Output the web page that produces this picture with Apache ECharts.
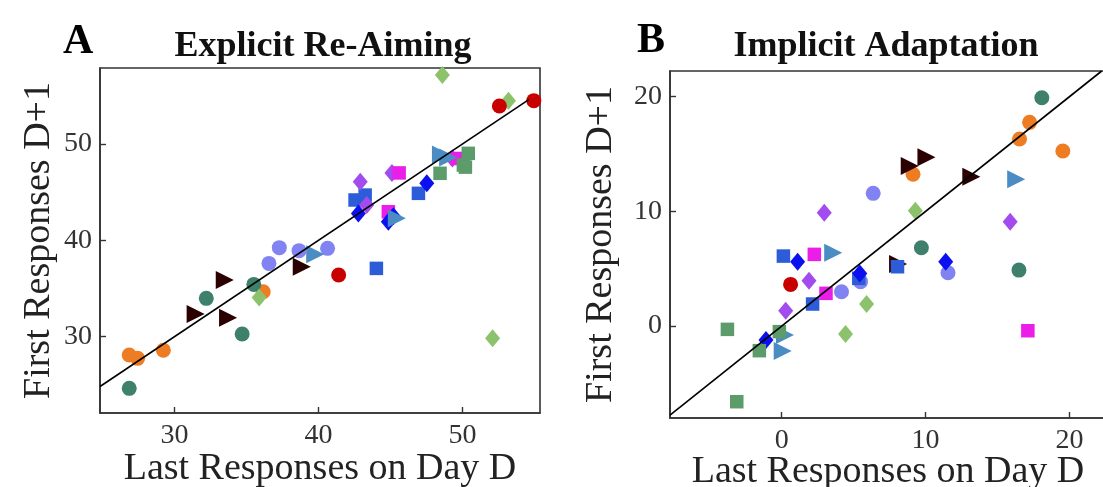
<!DOCTYPE html>
<html>
<head>
<meta charset="utf-8">
<script src="https://cdn.jsdelivr.net/npm/echarts@6/dist/echarts.min.js"></script>
<style>html,body{margin:0;padding:0;background:#fff}#c{width:1103px;height:487px}</style>
</head>
<body>
<div id="c"></div>
<script>
// ---- Panel A: Explicit Re-Aiming ----
const orangeA   = [[26.86,28.1],[27.44,27.75],[29.23,28.6],[36.16,34.67]];
const tealA     = [[26.86,24.64],[32.21,33.98],[35.51,35.43],[34.70,30.28]];
const maroonA   = [[31.47,32.35],[33.49,35.88],[33.72,31.97],[38.84,37.27]];
const lightGreenA = [[35.88,34.08],[48.6,57.16],[53.19,54.5],[52.09,29.83]];
const lavenderA = [[36.56,37.61],[37.28,39.24],[38.65,38.93],[40.63,39.17]];
const redA      = [[41.4,36.4],[52.56,53.94],[54.95,54.5]];
const royalA    = [[42.54,44.19],[43.24,44.7],[44.02,37.09],[46.94,44.88]];
const purpleA   = [[42.9,46.09],[43.35,43.67],[45.1,47.0],[49.3,48.5]];
const magentaA  = [[45.6,47.0],[44.85,42.97],[49.6,48.5]];
const blueA     = [[42.77,42.8],[44.85,41.94],[45.2,42.5],[47.52,45.92]];
const steelA    = [[39.77,38.55],[45.44,42.29],[48.5,48.9],[49.0,48.6]];
const greenA    = [[48.44,46.96],[50.06,47.82],[50.4,49.03],[50.2,47.6]];
const identityA = [24.83, 54.6];

// ---- Panel B: Implicit Adaptation ----
const orangeB   = [[17.23,17.76],[16.53,16.31],[19.54,15.26],[9.13,13.23]];
const tealB     = [[18.08,19.91],[9.71,6.83],[16.49,4.88]];
const maroonB   = [[8.9,13.95],[10.06,14.71],[13.18,13.02],[8.09,5.41]];
const lightGreenB = [[9.29,10.06],[5.9,1.92],[4.44,-0.7]];
const lavenderB = [[6.36,11.57],[4.16,2.99],[5.48,3.87],[11.56,4.65]];
const redB      = [[0.62,3.63]];
const royalB    = [[0.12,6.1],[2.15,1.92],[5.36,4.16],[8.05,5.17]];
const purpleB   = [[2.96,9.88],[15.88,9.1],[1.9,3.95],[0.28,1.34]];
const magentaB  = [[2.27,6.25],[3.08,2.85],[17.11,-0.41]];
const blueB     = [[1.11,5.61],[-1.09,-1.22],[5.43,4.59],[11.4,5.61]];
const steelB    = [[16.3,12.79],[3.58,6.4],[0.23,-0.78],[0.07,-2.18]];
const greenB    = [[-3.77,-0.29],[-1.55,-2.15],[-3.12,-6.6],[-0.16,-0.49]];
const identityB = [-7.76, 22.24];

const ticksA_x = [30,40,50], ticksA_y = [30,40,50];
const ticksB_x = [0,10,20],  ticksB_y = [0,10,20];

const FONT = '"Liberation Serif", "DejaVu Serif", serif';
const AX = '#333';

const groups = [
  ['orange',   '#ee7c22','circle', orangeA, orangeB],
  ['teal',     '#3f806c','circle', tealA, tealB],
  ['maroon',   '#2b0000','tri',    maroonA, maroonB],
  ['lightgreen','#8dc26c','diamond', lightGreenA, lightGreenB],
  ['lavender', '#8283f2','circle', lavenderA, lavenderB],
  ['red',      '#c80000','circle', redA, redB],
  ['royal',    '#2c5cd8','rect',   royalA, royalB],
  ['purple',   '#a24cf0','diamond', purpleA, purpleB],
  ['magenta',  '#ea1ee8','rect',   magentaA, magentaB],
  ['blue',     '#0a10ee','diamond', blueA, blueB],
  ['steel',    '#4b8cc3','tri',    steelA, steelB],
  ['green',    '#5c9c6a','rect',   greenA, greenB]
];

function symbolOf(kind){
  if (kind === 'circle') return {symbol:'circle', symbolSize:15, symbolRotate:0};
  if (kind === 'rect') return {symbol:'rect', symbolSize:13.5, symbolRotate:0};
  if (kind === 'diamond') return {symbol:'diamond', symbolSize:[15,18], symbolRotate:0};
  return {symbol:'triangle', symbolSize:[18,18], symbolRotate:-90};
}

const series = [];
groups.forEach(g => {
  [3,4].forEach((idx, p) => {
    const s = symbolOf(g[2]);
    series.push({
      type:'scatter', name:g[0]+(p?'B':'A'),
      xAxisIndex:p, yAxisIndex:p,
      data:g[idx], symbol:s.symbol, symbolSize:s.symbolSize, symbolRotate:s.symbolRotate,
      itemStyle:{color:g[1], opacity:1}, z:2, silent:true
    });
  });
});
series.push({type:'line', xAxisIndex:0, yAxisIndex:0, data:[[identityA[0],identityA[0]],[identityA[1],identityA[1]]],
  symbol:'none', lineStyle:{color:'#000', width:1.6}, z:5, silent:true});
series.push({type:'line', xAxisIndex:1, yAxisIndex:1, data:[[identityB[0],identityB[0]],[identityB[1],identityB[1]]],
  symbol:'none', lineStyle:{color:'#000', width:1.6}, z:5, silent:true});

function xAxis(grid, min, max, ticks, gap){
  return {type:'value', gridIndex:grid, min:min, max:max,
    name:'Last Responses on Day D', nameLocation:'middle', nameGap:gap, nameMoveOverlap:false,
    nameTextStyle:{fontFamily:FONT, fontSize:38, color:'#222'},
    axisLine:{show:true, onZero:false, lineStyle:{color:AX, width:1.6}},
    axisTick:{show:true, inside:true, length:6, customValues:ticks, lineStyle:{color:AX, width:1.4}},
    axisLabel:{customValues:ticks, fontFamily:FONT, fontSize:28, color:'#333', margin:9},
    splitLine:{show:false}};
}
function yAxis(grid, min, max, ticks, gap){
  return {type:'value', gridIndex:grid, min:min, max:max,
    name:'First Responses D+1', nameLocation:'middle', nameGap:gap,
    nameTextStyle:{fontFamily:FONT, fontSize:38, color:'#222'},
    axisLine:{show:true, onZero:false, lineStyle:{color:AX, width:1.6}},
    axisTick:{show:true, inside:true, length:6, customValues:ticks, lineStyle:{color:AX, width:1.4}},
    axisLabel:{customValues:ticks, fontFamily:FONT, fontSize:28, color:'#333', margin:8},
    splitLine:{show:false}};
}

const chart = echarts.init(document.getElementById('c'), null, {renderer:'canvas'});
chart.setOption({
  animation:false,
  backgroundColor:'#fff',
  grid:[
    {left:100, top:68, width:440, height:345, outerBoundsMode:'none', containLabel:false, show:true, borderColor:AX, borderWidth:1.6, backgroundColor:'transparent'},
    {left:670, top:71, width:436, height:347, outerBoundsMode:'none', containLabel:false, show:true, borderColor:AX, borderWidth:1.6, backgroundColor:'transparent'}
  ],
  xAxis:[xAxis(0,24.83,55.38,ticksA_x,37), xAxis(1,-7.76,22.54,ticksB_x,35)],
  yAxis:[yAxis(0,22.08,57.89,ticksA_y,42), yAxis(1,-8.02,22.24,ticksB_y,50)],
  graphic:[
    {type:'text', left:63, top:21, style:{text:'A', font:'bold 42px '+FONT, fill:'#000'}},
    {type:'text', left:637, top:20, style:{text:'B', font:'bold 42px '+FONT, fill:'#000'}},
    {type:'text', x:323, y:65, style:{text:'Explicit Re-Aiming', font:'bold 36px '+FONT, fill:'#111', textAlign:'center', textVerticalAlign:'bottom'}},
    {type:'text', x:886, y:65, style:{text:'Implicit Adaptation', font:'bold 36px '+FONT, fill:'#111', textAlign:'center', textVerticalAlign:'bottom'}}
  ],
  series:series
});
</script>
</body>
</html>
